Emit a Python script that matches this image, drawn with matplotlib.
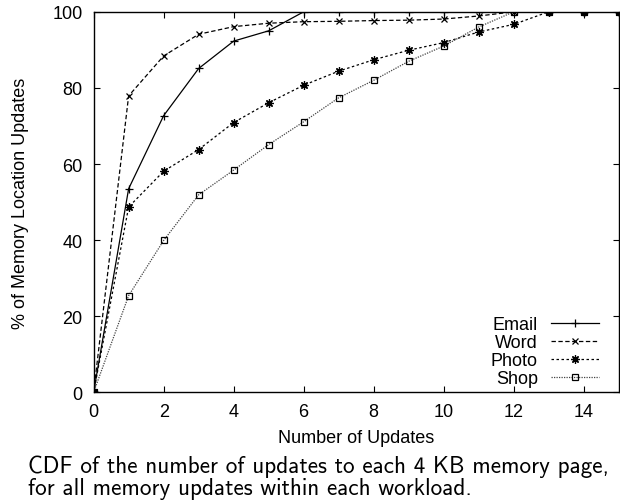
import matplotlib
matplotlib.use("Agg")
import matplotlib.pyplot as plt

plt.rcParams['font.family'] = ['Liberation Sans', 'DejaVu Sans']

x = list(range(16))
email = [0, 53.5, 72.7, 85.1, 92.3, 95.0, 100, 100, 100, 100, 100, 100, 100, 100, 100, 100]
word = [0, 77.9, 88.4, 94.1, 96.1, 97.0, 97.4, 97.5, 97.7, 97.8, 98.1, 98.9, 100, 100, 100, 100]
photo = [0, 48.7, 58.1, 63.8, 70.9, 76.1, 80.7, 84.4, 87.4, 89.9, 91.9, 94.7, 96.7, 100, 100, 100]
shop = [0, 25.4, 39.9, 51.9, 58.4, 65.1, 71.1, 77.4, 82.0, 87.0, 91.0, 96.0, 100, 100, 100, 100]

fig = plt.figure(figsize=(6.2, 5.02), dpi=100)
ax = fig.add_axes([0.151, 0.2165, 0.847, 0.758])

ax.plot(x, email, "-", color="black", lw=0.9, marker="+", ms=6, mew=0.9, label="Email")
ax.plot(x, word, color="black", lw=0.9, dashes=(3.5, 2), marker="x", ms=5, mew=0.9, label="Word")
ax.plot(x, photo, color="black", lw=0.9, dashes=(2, 2), marker=(8, 2, 0), ms=6, mew=0.9, label="Photo")
ax.plot(x, shop, color="#444444", lw=0.9, dashes=(1, 1), marker="s", ms=5, mew=0.9,
        mfc="none", mec="black", label="Shop")

ax.set_xlim(0, 15)
ax.set_ylim(0, 100)
ax.set_xticks(range(0, 15, 2))
ax.set_yticks(range(0, 101, 20))
ax.tick_params(direction="in", length=4.3, width=0.8, top=True, right=True,
               labelsize=13, pad=8)
for s in ax.spines.values():
    s.set_linewidth(1.0)

ax.set_xlabel("Number of Updates", fontsize=13, labelpad=6)
ax.set_ylabel("% of Memory Location Updates", fontsize=13, labelpad=17)

ax.legend(loc="lower right", bbox_to_anchor=(0.963, 0.014), frameon=False, fontsize=13,
          markerfirst=False, handlelength=2.7, handletextpad=0.7, labelspacing=0.05,
          borderpad=0, borderaxespad=0)

fig.text(0.045, 0.0584, "CDF of the number of updates to each 4 KB memory page,",
         family="cmss10", fontsize=16.7, ha="left", va="baseline")
fig.text(0.045, 0.0139, "for all memory updates within each workload.",
         family="cmss10", fontsize=16.7, ha="left", va="baseline")

plt.savefig("out.png", dpi=100)
